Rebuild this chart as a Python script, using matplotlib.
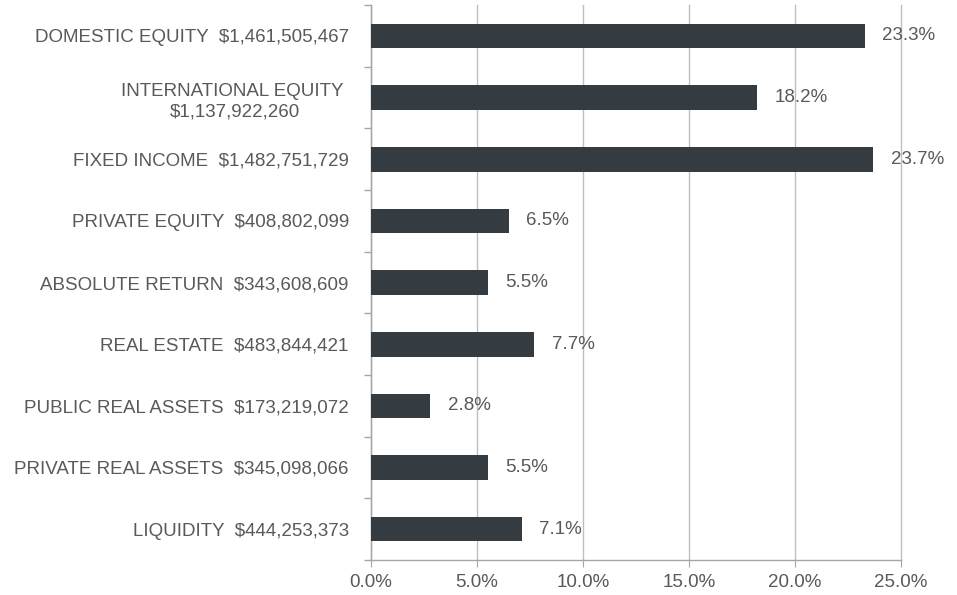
import matplotlib
matplotlib.use("Agg")
import matplotlib.pyplot as plt
from matplotlib.ticker import FixedLocator, PercentFormatter

categories = [
    "DOMESTIC EQUITY  $1,461,505,467",
    "INTERNATIONAL EQUITY \n$1,137,922,260",
    "FIXED INCOME  $1,482,751,729",
    "PRIVATE EQUITY  $408,802,099",
    "ABSOLUTE RETURN  $343,608,609",
    "REAL ESTATE  $483,844,421",
    "PUBLIC REAL ASSETS  $173,219,072",
    "PRIVATE REAL ASSETS  $345,098,066",
    "LIQUIDITY  $444,253,373",
]
values = [23.3, 18.2, 23.7, 6.5, 5.5, 7.7, 2.8, 5.5, 7.1]
xticks = [0, 5, 10, 15, 20, 25]

plt.rcParams['font.family'] = ['Liberation Sans', 'DejaVu Sans']
text_color = "#595959"
bar_color = "#343C42"
grid_color = "#BFBFBF"
fs = 13.5

fig = plt.figure(figsize=(9.57, 5.95), dpi=100)
ax = fig.add_axes([371/957, 1 - 560/595, 530/957, 555/595])

n = len(categories)
ypos = list(range(n))
ax.barh(ypos, values, height=0.4, color=bar_color, zorder=3)
ax.set_ylim(n - 0.5, -0.5)
ax.set_xlim(0, 25)

ax.set_yticks(ypos)
ax.set_yticklabels(categories, fontsize=fs, color=text_color, multialignment='center',
                   linespacing=1.3)
ax.tick_params(axis='y', which='major', length=0, pad=16)
ax.yaxis.set_minor_locator(FixedLocator([i - 0.5 for i in range(n + 1)]))
ax.tick_params(axis='y', which='minor', length=5, color="#A6A6A6", width=1)

ax.set_xticks(xticks)
ax.xaxis.set_major_formatter(PercentFormatter(decimals=1))
ax.tick_params(axis='x', length=5, color="#A6A6A6", labelsize=fs, labelcolor=text_color, pad=5)
ax.grid(axis='x', color=grid_color, linewidth=1, zorder=0)
for gl in ax.get_xgridlines():
    gl.set_clip_on(False)

for s in ['top', 'right']:
    ax.spines[s].set_visible(False)
for s in ['left', 'bottom']:
    ax.spines[s].set_color("#A6A6A6")
    ax.spines[s].set_linewidth(1)

for y, v in zip(ypos, values):
    ax.annotate(f"{v:.1f}%", xy=(v, y), xytext=(12.5, 0), textcoords='offset points',
                va='center', ha='left', fontsize=fs, color=text_color, zorder=4)

fig.savefig("out.png", dpi=100)
